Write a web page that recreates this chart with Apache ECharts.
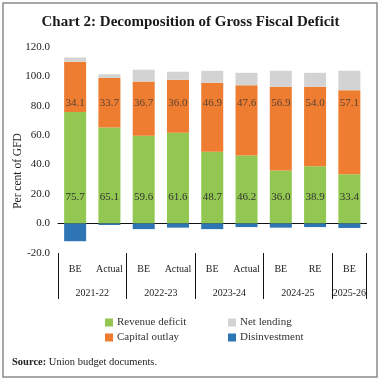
<!DOCTYPE html>
<html><head><meta charset="utf-8">
<script src="https://cdn.jsdelivr.net/npm/echarts@6/dist/echarts.min.js"></script>
<style>html,body{margin:0;padding:0;background:#fff}#c{width:381px;height:382px}</style>
</head><body><div id="c"></div>
<script>
var categories = ['BE','Actual','BE','Actual','BE','Actual','BE','RE','BE'];
var years = ['2021-22','2022-23','2023-24','2024-25','2025-26'];
var yearCenters = [1, 3, 5, 7, 8.5];
var yearBounds = [0, 2, 4, 6, 8, 9];
var revenueDeficit = [75.7, 65.1, 59.6, 61.6, 48.7, 46.2, 36.0, 38.9, 33.4];
var capitalOutlay = [34.1, 33.7, 36.7, 36.0, 46.9, 47.6, 56.9, 54.0, 57.1];
var netLending = [2.9, 2.5, 8.1, 5.4, 8.0, 8.5, 10.8, 9.4, 13.2];
var disinvestment = [-12.0, -1.0, -3.8, -2.8, -3.8, -2.4, -2.8, -2.4, -3.0];
var yTicks = [-20, 0, 20, 40, 60, 80, 100, 120];

var FONT = '"Liberation Serif", "DejaVu Serif", serif';
var chart = echarts.init(document.getElementById('c'), null, {renderer:'canvas'});
var colors = {rev:'#92C851', cap:'#EE7D31', net:'#D3D3D3', dis:'#2E75B6'};
function legendAt(name, left, top){
  return {data:[name], left:left, top:top, padding:0, itemWidth:8, itemHeight:8, itemGap:0,
    icon:'rect', selectedMode:false, textStyle:{fontFamily:FONT, fontSize:11, color:'#333', padding:[0,0,0,-1]}};
}
var option = {
  animation:false,
  title:{text:'Chart 2: Decomposition of Gross Fiscal Deficit', left:'center', top:10,
    textStyle:{fontFamily:FONT, fontSize:15, fontWeight:'bold', color:'#1a1a1a'}},
  legend:[legendAt('Revenue deficit',105,317), legendAt('Net lending',228,317),
          legendAt('Capital outlay',105,332), legendAt('Disinvestment',228,332)],
  grid:{left:58, right:14.5, top:46.7, bottom:129},
  xAxis:[
    {type:'category', data:categories, position:'bottom',
     axisLine:{show:false, onZero:false}, axisTick:{show:false},
     axisLabel:{interval:0, fontFamily:FONT, fontSize:10, color:'#222', margin:11}},
    {type:'value', min:0, max:9, position:'bottom', splitLine:{show:false},
     axisLine:{show:false, onZero:false},
     axisTick:{show:true, customValues:yearBounds, length:46, lineStyle:{color:'#111', width:1}},
     axisLabel:{customValues:yearCenters, fontFamily:FONT, fontSize:10, color:'#222', margin:35,
       formatter:function(v){ var i = yearCenters.indexOf(v); return i>=0 ? years[i] : ''; }}},
    {type:'category', data:categories, axisLine:{show:true, onZero:true, lineStyle:{color:'#111', width:1}},
     axisTick:{show:false}, axisLabel:{show:false}}
  ],
  yAxis:{type:'value', min:-20, max:120, interval:20, splitLine:{show:false},
    axisLine:{show:false}, axisTick:{show:false},
    axisLabel:{fontFamily:FONT, fontSize:11, color:'#222', margin:8,
      formatter:function(v){return v.toFixed(1);}}},
  graphic:[
    {type:'rect', shape:{x:3, y:3, width:374, height:374}, style:{fill:'none', stroke:'#8a8a8a', lineWidth:1.5}, silent:true},
    {type:'text', x:18, y:171, rotation:Math.PI/2, style:{text:'Per cent of GFD', font:'11.5px '+FONT, fill:'#222', textAlign:'center', textVerticalAlign:'middle'}},
    {type:'text', x:12, y:357, style:{text:'{b|Source:} Union budget documents.', font:'10.5px '+FONT, fill:'#222',
      rich:{b:{fontWeight:'bold', fontFamily:FONT, fontSize:10.5, fill:'#222'}}}}
  ],
  series:[
    {name:'Revenue deficit', type:'bar', stack:'g', barWidth:22, data:revenueDeficit, itemStyle:{color:colors.rev},
     label:{show:true, position:'insideBottom', distance:21, fontFamily:FONT, fontSize:11, color:'#333',
       formatter:function(p){return p.value.toFixed(1);}}},
    {name:'Capital outlay', type:'bar', stack:'g', barWidth:22, data:capitalOutlay, itemStyle:{color:colors.cap}},
    {name:'Net lending', type:'bar', stack:'g', barWidth:22, data:netLending, itemStyle:{color:colors.net}},
    {name:'Disinvestment', type:'bar', stack:'g', barWidth:22, data:disinvestment, itemStyle:{color:colors.dis}},
    {name:'capLabels', type:'scatter', symbolSize:0, silent:true,
     data:capitalOutlay.map(function(v, i){ return [i, 82]; }),
     label:{show:true, position:'inside', fontFamily:FONT, fontSize:11, color:'#333',
       formatter:function(p){ return capitalOutlay[p.dataIndex].toFixed(1); }}}
  ]
};
chart.setOption(option);
</script></body></html>
